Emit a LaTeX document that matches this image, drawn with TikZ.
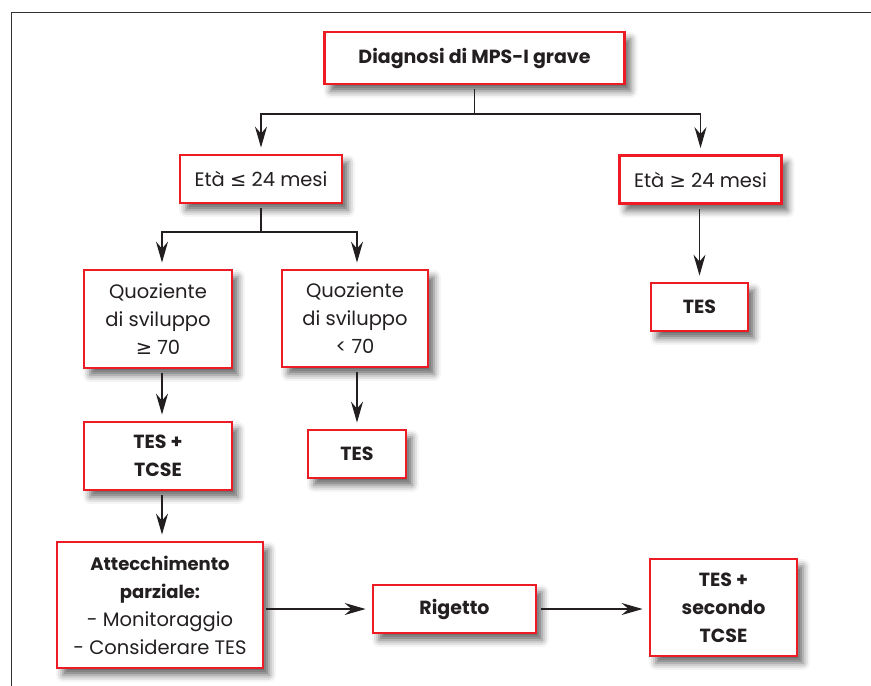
\documentclass[tikz,border=0pt]{standalone}
\usepackage{fontspec}
\setmainfont{Poppins}
\newfontfamily\symf{DejaVu Sans}
\usetikzlibrary{arrows.meta,shadows.blur}
\definecolor{boxred}{RGB}{237,28,36}
\definecolor{ink}{RGB}{35,31,32}
\definecolor{framec}{RGB}{50,50,50}
\begin{document}
\begin{tikzpicture}[x=1pt,y=1pt,
 box/.style={draw=boxred, line width=2.8pt, fill=white, align=center, inner sep=0pt, text=ink,
   font=\fontsize{19.5}{28}\selectfont,
   blur shadow={shadow xshift=6pt, shadow yshift=-7pt, shadow blur radius=7pt, shadow opacity=60}},
 bbox/.style={box, font=\bfseries\fontsize{19}{28}\selectfont},
 arr/.style={-{Stealth[length=21pt,width=12pt,inset=7pt]}, shorten >=6pt, line width=1.1pt, draw=ink},
 ln/.style={line width=1.1pt, draw=ink}]
\useasboundingbox (0,0) rectangle (871,-686);
\draw[line width=1pt, framec] (11,-686) -- (11,-12) -- (871,-12);

\node[bbox, minimum width=300, minimum height=52] (diag) at (474.5,-58) {Diagnosi di MPS-I grave};
\node[box, minimum width=162, minimum height=48] (eta1) at (261,-179) {Età {\symf ≤} 24 mesi};
\node[box, minimum width=162, minimum height=48] (eta2) at (700.5,-179.5) {Età {\symf ≥} 24 mesi};
\node[box, minimum width=148, minimum height=98] (q1) at (158,-319) {Quoziente\\di sviluppo\\{\symf ≥} 70};
\node[box, minimum width=146, minimum height=97] (q2) at (355,-318.5) {Quoziente\\di sviluppo\\< 70};
\node[bbox, minimum width=97, minimum height=48] (tesR) at (699.5,-307) {TES};
\node[bbox, minimum width=148, minimum height=68] (tes1) at (158,-456) {TES +\\TCSE};
\node[bbox, minimum width=98, minimum height=48] (tesM) at (357,-454) {TES};
\node[box, minimum width=206, minimum height=126] (att) at (160,-605) {\textbf{\fontsize{18}{28}\selectfont Attecchimento}\\\textbf{\fontsize{18}{28}\selectfont parziale:}\\- Monitoraggio\\- Considerare TES};
\node[bbox, minimum width=163, minimum height=48] (rig) at (454.5,-609) {Rigetto};
\node[bbox, minimum width=147, minimum height=97] (tes2) at (723.5,-607.5) {TES +\\secondo\\TCSE};

\coordinate (b1) at (474.5,-114);
\coordinate (b2) at (261,-232);
\draw[ln, shorten <=4pt] (diag.south) -- (b1);
\draw[arr] (b1) -| (eta1.north);
\draw[arr] (b1) -| (eta2.north);
\draw[ln, shorten <=4pt] (eta1.south) -- (b2);
\draw[arr] (b2) -| ([xshift=4pt]q1.north);
\draw[arr] (b2) -| ([xshift=2pt]q2.north);
\draw[arr, shorten <=4pt] ([xshift=-1pt]eta2.south) -- (tesR.north);
\draw[arr, shorten <=4pt] ([xshift=4pt]q1.south) -- ([xshift=4pt]tes1.north);
\draw[arr, shorten <=4pt] ([xshift=2pt]q2.south) -- (tesM.north);
\draw[arr, shorten <=4pt] ([xshift=4pt]tes1.south) -- ([xshift=2pt]att.north);
\draw[arr, shorten <=2pt] (att.east |- rig.west) -- (rig.west);
\draw[arr, shorten <=4pt] (rig.east) -- (tes2.west |- rig.east);
\end{tikzpicture}
\end{document}
